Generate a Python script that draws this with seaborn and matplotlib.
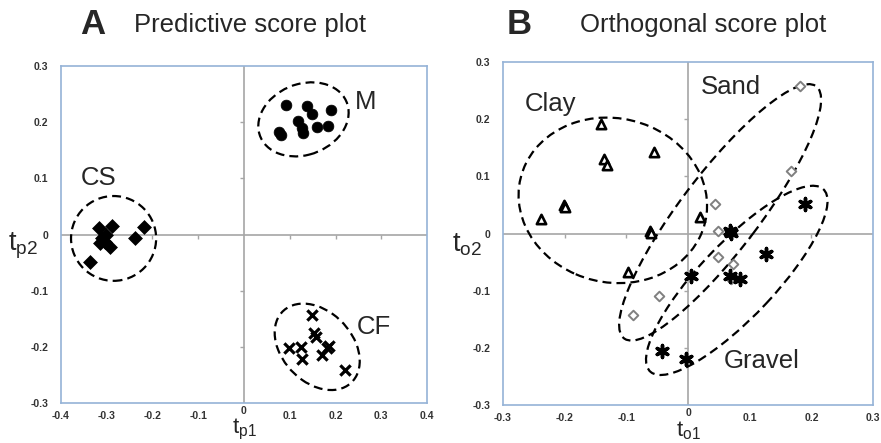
import numpy as np
import pandas as pd
import matplotlib
matplotlib.use('Agg')
import matplotlib.pyplot as plt
import matplotlib.transforms as mtransforms
from matplotlib.patches import Ellipse
import seaborn as sns

# ---- panel A: predictive scores ----
m_x = [0.092, 0.138, 0.148, 0.191, 0.117, 0.127, 0.160, 0.183, 0.076, 0.080, 0.130]
m_y = [0.230, 0.228, 0.215, 0.221, 0.202, 0.190, 0.191, 0.194, 0.183, 0.178, 0.181]
cs_x = [-0.316, -0.289, -0.218, -0.239, -0.310, -0.303, -0.314, -0.292, -0.337, -0.301]
cs_y = [0.011, 0.015, 0.014, -0.006, -0.007, -0.013, -0.016, -0.022, -0.049, -0.001]
cf_x = [0.149, 0.152, 0.158, 0.098, 0.125, 0.127, 0.181, 0.171, 0.220, 0.185]
cf_y = [-0.143, -0.176, -0.183, -0.202, -0.200, -0.222, -0.202, -0.215, -0.241, -0.198]

# ---- panel B: orthogonal scores ----
clay_x = [-0.141, -0.056, -0.137, -0.132, -0.201, -0.200, -0.239, -0.061, -0.060, -0.097, 0.019]
clay_y = [0.192, 0.143, 0.131, 0.119, 0.049, 0.046, 0.026, 0.005, 0.001, -0.068, 0.029]
sand_x = [0.182, 0.167, 0.044, 0.048, 0.048, 0.073, 0.070, -0.047, -0.090]
sand_y = [0.258, 0.109, 0.052, 0.005, -0.041, -0.053, -0.079, -0.110, -0.143]
gravel_x = [0.189, 0.068, 0.070, 0.127, 0.068, 0.085, 0.004, -0.043, -0.004]
gravel_y = [0.052, 0.005, 0.001, -0.036, -0.074, -0.079, -0.075, -0.205, -0.220]

ticks_a_x = [-0.4, -0.3, -0.2, -0.1, 0, 0.1, 0.2, 0.3, 0.4]
ticks_b_x = [-0.3, -0.2, -0.1, 0, 0.1, 0.2, 0.3]
ticks_y = [-0.3, -0.2, -0.1, 0, 0.1, 0.2, 0.3]

sns.set_style('white')
plt.rcParams['font.family'] = ['Liberation Sans', 'DejaVu Sans']
plt.rcParams['mathtext.fontset'] = 'custom'
plt.rcParams['mathtext.rm'] = 'Liberation Sans'
plt.rcParams['mathtext.it'] = 'Liberation Sans'

frame_col = '#95b3d7'
zero_col = '#a6a6a6'
tick_col = '#333333'
dash = (0, (4, 2.3))
lab_size = 18.5

fig = plt.figure(figsize=(8.81, 4.43), dpi=100)
axA = fig.add_axes([0.0692, 0.0903, 0.4155, 0.7607])
axB = fig.add_axes([0.5710, 0.0858, 0.4200, 0.7742])


def style_axes(ax, xticks, xlim, xlab, ylab, ylab_x):
    ax.set_xlim(xlim)
    ax.set_ylim(-0.3, 0.3)
    ax.set_xticks(xticks)
    ax.set_yticks(ticks_y)
    # the x "0" sits raised (Excel style), drawn separately below
    ax.set_xticklabels(['' if t == 0 else f'{t:g}' for t in xticks])
    ax.set_yticklabels(['0' if t == 0 else f'{t:g}' for t in ticks_y])
    ax.tick_params(axis='x', length=0, labelsize=7.5, labelcolor=tick_col, pad=6)
    ax.tick_params(axis='y', length=0, labelsize=7.5, labelcolor=tick_col, pad=9)
    for lab in ax.get_xticklabels() + ax.get_yticklabels():
        lab.set_fontweight('bold')
    for s in ax.spines.values():
        s.set_color(frame_col)
        s.set_linewidth(1.2)
    ax.axhline(0, color=zero_col, lw=1.2, zorder=1)
    ax.axvline(0, color=zero_col, lw=1.2, zorder=1)
    # small tick marks on the zero lines
    inner_x = [t for t in xticks if t != 0 and abs(t) < xlim[1]]
    inner_y = [t for t in ticks_y if t != 0 and abs(t) < 0.3]
    ax.plot(inner_x, [0] * len(inner_x), ls='none', marker=3, ms=3,
            mew=1, color=zero_col, zorder=1)
    ax.plot([0] * len(inner_y), inner_y, ls='none', marker=0, ms=3,
            mew=1, color=zero_col, zorder=1)
    ax.set_xlabel('')
    ax.set_ylabel('')
    bx = mtransforms.blended_transform_factory(ax.transData, ax.transAxes)
    ax.text(0, -0.01, '0', transform=bx, ha='center', va='top',
            fontsize=7.5, fontweight='bold', color=tick_col)
    # x label sits at the very bottom of the figure, under the "0"
    bf = mtransforms.blended_transform_factory(ax.transData, fig.transFigure)
    ax.text(0, 0.002, xlab, transform=bf, ha='center', va='bottom', fontsize=16)
    by = mtransforms.blended_transform_factory(ax.transAxes, ax.transData)
    ax.text(ylab_x, -0.02, ylab, transform=by, ha='right', va='center', fontsize=19.5)


def ring(ax, cx, cy, w, h, ang):
    ax.add_patch(Ellipse((cx, cy), w, h, angle=ang, fill=False,
                         ec='black', lw=1.6, ls=dash, zorder=2))


# panel A
sns.scatterplot(x=m_x, y=m_y, ax=axA, marker='o', s=60, color='black',
                edgecolor='black', linewidth=0.5, zorder=3)
sns.scatterplot(x=cs_x, y=cs_y, ax=axA, marker='D', s=50, color='black',
                edgecolor='black', linewidth=0.5, zorder=3)
sns.scatterplot(x=cf_x, y=cf_y, ax=axA, marker='x', s=55, color='black',
                linewidth=2.3, zorder=3)
ring(axA, 0.130, 0.205, 0.200, 0.128, 12)
ring(axA, -0.285, -0.007, 0.186, 0.151, 0)
ring(axA, 0.160, -0.200, 0.200, 0.135, -30)
axA.text(0.265, 0.236, 'M', fontsize=lab_size, ha='center', va='center')
axA.text(-0.318, 0.100, 'CS', fontsize=lab_size, ha='center', va='center')
axA.text(0.283, -0.164, 'CF', fontsize=lab_size, ha='center', va='center')
style_axes(axA, ticks_a_x, (-0.4, 0.4), r'$\mathregular{t_{p1}}$',
           r'$\mathregular{t_{p2}}$', -0.062)

# panel B
sns.scatterplot(x=clay_x, y=clay_y, ax=axB, marker='^', s=45, color='white',
                edgecolor='black', linewidth=1.9, zorder=3)
sns.scatterplot(x=sand_x, y=sand_y, ax=axB, marker='D', s=24, color='white',
                edgecolor='#808080', linewidth=1.4, zorder=3)
sns.scatterplot(x=gravel_x, y=gravel_y, ax=axB, marker=(6, 2, 0), s=75,
                color='black', edgecolor='black', linewidth=2.5, zorder=3)
ring(axB, -0.122, 0.058, 0.310, 0.285, -25)
ring(axB, 0.052, 0.037, 0.540, 0.130, 55)
ring(axB, 0.079, -0.082, 0.425, 0.125, 49)
axB.text(-0.223, 0.226, 'Clay', fontsize=lab_size, ha='center', va='center')
axB.text(0.070, 0.256, 'Sand', fontsize=lab_size, ha='center', va='center')
axB.text(0.119, -0.223, 'Gravel', fontsize=lab_size, ha='center', va='center')
style_axes(axB, ticks_b_x, (-0.3, 0.3), r'$\mathregular{t_{o1}}$',
           r'$\mathregular{t_{o2}}$', -0.056)

# panel headings
fig.text(0.1056, 0.944, 'A', fontsize=25, fontweight='bold', ha='center', va='center')
fig.text(0.284, 0.944, 'Predictive score plot', fontsize=18.5, ha='center', va='center')
fig.text(0.589, 0.944, 'B', fontsize=25, fontweight='bold', ha='center', va='center')
fig.text(0.798, 0.944, 'Orthogonal score plot', fontsize=18.5, ha='center', va='center')

fig.savefig('out.png', dpi=100)
